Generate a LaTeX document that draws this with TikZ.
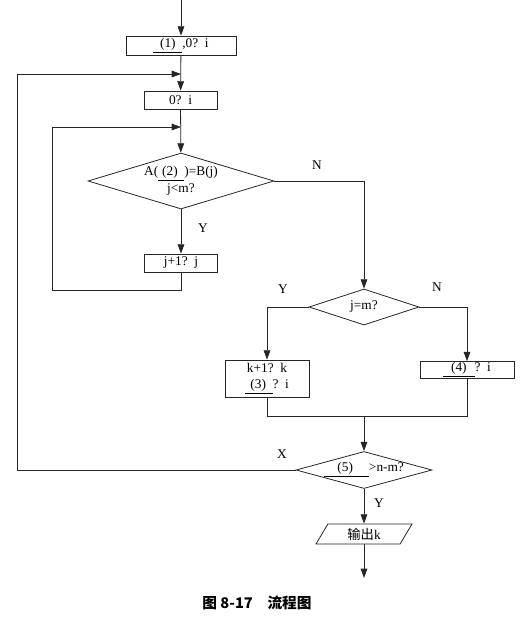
\documentclass[tikz,border=0pt]{standalone}
\usepackage{fontspec}
\setmainfont{Liberation Serif}
\newfontfamily\cjk{Noto Sans CJK SC}
\usepackage{tikz}
\usetikzlibrary{positioning, calc, shapes.geometric, arrows.meta}

\newcommand{\blank}[3]{\underline{\hspace{#1}#2\hspace{#3}}}

\begin{document}
\begin{tikzpicture}[x=0.75pt, y=-0.75pt,
    every node/.style={font=\fontsize{10}{12}\selectfont},
    line/.style={draw=black!85, line width=0.6pt},
    flow/.style={line, -{Triangle[length=7pt,width=5pt]}},
    procbox/.style={draw=black!85, line width=0.6pt, rectangle, inner sep=0pt},
    testbox/.style={draw=black!85, line width=0.6pt, diamond, inner sep=0pt},
    outbox/.style={draw=black!85, line width=0.6pt, trapezium, trapezium left angle=66,
        trapezium right angle=114, trapezium stretches=true, inner sep=0pt},
    tag/.style={inner sep=0pt}]
    \useasboundingbox (0,0) rectangle (523,629);

    \node[procbox, minimum width=82.5pt, minimum height=14.25pt] (b1) at (181,45.5) {\blank{0.5em}{(1)}{0.5em},0?\ \ i};
    \node[procbox, minimum width=54.75pt, minimum height=13.5pt] (b2) at (180.5,100) {0?\ \ i};
    \node[testbox, aspect=3.3, minimum width=139.5pt, minimum height=42pt, align=center] (d1) at (181,181)
        {A(\blank{0.3em}{(2)}{0.5em})=B(j)\\[1pt] j<m?};
    \node[procbox, minimum width=54.75pt, minimum height=13.5pt] (b3) at (181,263) {j+1?\ \ j};
    \node[testbox, aspect=3, minimum width=82.5pt, minimum height=27pt] (d2) at (364,307) {j=m?};
    \node[procbox, minimum width=63pt, minimum height=27.75pt, align=center] (b4) at (267,378.5)
        {k+1?\ \ k\\ \blank{0.4em}{(3)}{0.5em}?\ \ i};
    \node[procbox, minimum width=70.5pt, minimum height=12.75pt] (b5) at (467,370) {\blank{0.6em}{(4)}{0.6em}?\ \ i};
    \node[testbox, aspect=3.7, minimum width=102pt, minimum height=27.75pt] (d3) at (364,470)
        {\blank{1em}{(5)}{1.2em}>n-m?};
    \node[outbox, minimum width=72pt, minimum height=15pt] (out) at (364,534) {{\cjk 输出}k};

    \coordinate (start) at (181,0);
    \coordinate (l1) at (17,74);
    \coordinate (m1) at (181,74);
    \coordinate (l2) at (52,290);
    \coordinate (m2) at (181,127);
    \coordinate (join) at (364,416);
    \coordinate (stop) at (364,578);

    \draw[flow] (start) -- (b1);
    \draw[flow] (b1) -- (b2);
    \draw[flow] (d3.west) -| (l1) -- (m1);
    \draw[flow] (b2) -- (d1);
    \draw[flow] (b3.south) |- (l2) |- (m2);
    \draw[flow] (d1) -- (b3);
    \draw[flow] (d1.east) -| (d2.north);
    \draw[flow] (d2.west) -| (b4.north);
    \draw[flow] (d2.east) -| (b5.north);
    \draw[line] (b4.south) |- (join);
    \draw[line] (b5.south) |- (join);
    \draw[flow] (join) -- (d3);
    \draw[flow] (d3) -- (out);
    \draw[flow] (out) -- (stop);

    \node[tag] (ty1) at (203,228) {Y};
    \node[tag] (tn1) at (317,165) {N};
    \node[tag] (ty2) at (283,289) {Y};
    \node[tag] (tn2) at (437,287) {N};
    \node[tag] (tx3) at (282,454) {X};
    \node[tag] (ty3) at (379,503) {Y};

    \node[tag, font=\cjk\bfseries\fontsize{11}{13}\selectfont] (cap) at (257,603) {图 8-17\quad 流程图};
\end{tikzpicture}
\end{document}
